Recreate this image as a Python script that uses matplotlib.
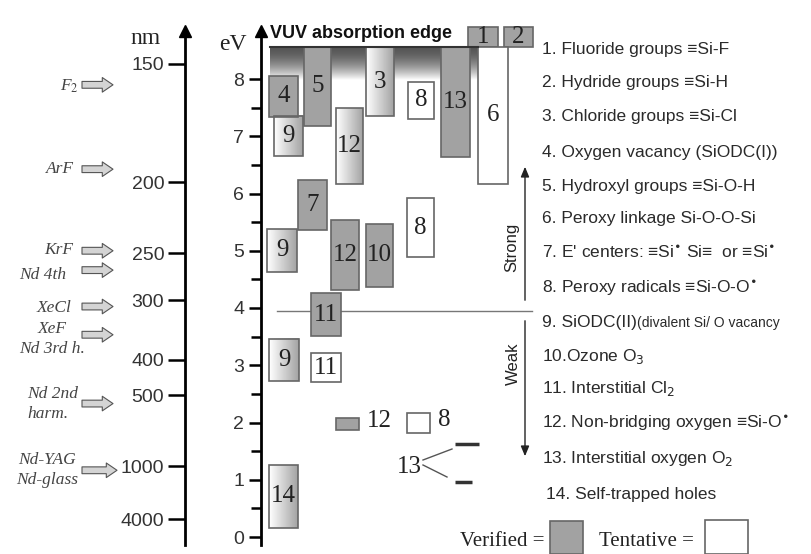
import numpy as np
import matplotlib.pyplot as plt
from matplotlib.patches import Rectangle

plt.rcParams['font.family'] = ['Liberation Sans', 'DejaVu Sans']

# ---- data ----
ev_ticks = [0, 1, 2, 3, 4, 5, 6, 7, 8]
nm_ticks = [150, 200, 250, 300, 400, 500, 1000, 4000]

laser_names = ['F$_2$', 'ArF', 'KrF', 'Nd 4th', 'XeCl', 'XeF\nNd 3rd h.',
               'Nd 2nd\nharm.', 'Nd-YAG\nNd-glass']
laser_nm = [157, 193, 248, 266, 308, 351, 532, 1064]

band_ids = ['1', '2', '4', '5', '9', '12', '3', '8', '13', '6', '7', '9',
            '12', '10', '8', '11', '9', '11', '12', '8', '14']
band_lo = [8.56, 8.56, 7.34, 7.18, 6.65, 6.17, 7.35, 7.30, 6.64, 6.17, 5.36,
           4.63, 4.31, 4.37, 4.89, 3.51, 2.72, 2.71, 1.87, 1.82, 0.16]
band_hi = [8.91, 8.91, 8.05, 8.56, 7.35, 7.49, 8.56, 7.95, 8.56, 8.56, 6.24,
           5.38, 5.54, 5.47, 5.92, 4.26, 3.46, 3.21, 2.08, 2.17, 1.26]
# v = verified, t = tentative, g = tentative shaded
band_kind = ['v', 'v', 'v', 'v', 'g', 'g', 'g', 't', 'v', 't', 'v', 'g',
             'v', 'v', 't', 'v', 'g', 't', 'v', 't', 'g']

o2_ev = [1.62, 0.96]
vuv_edge = (7.98, 8.56)
strong_weak_ev = 3.95

legend_items = [
    '1. Fluoride groups \u2261Si-F',
    '2. Hydride groups \u2261Si-H',
    '3. Chloride groups \u2261Si-Cl',
    '4. Oxygen vacancy (SiODC(I))',
    '5. Hydroxyl groups \u2261Si-O-H',
    '6. Peroxy linkage Si-O-O-Si',
    "7. E' centers: \u2261Si$^{\\bullet}$ Si\u2261  or \u2261Si$^{\\bullet}$",
    '8. Peroxy radicals \u2261Si-O-O$^{\\bullet}$',
    '9. SiODC(II)',
    '10.Ozone O$_3$',
    '11. Interstitial Cl$_2$',
    '12. Non-bridging oxygen \u2261Si-O$^{\\bullet}$',
    '13. Interstitial oxygen O$_2$',
    '14. Self-trapped holes',
]

# ---- layout (pixel positions) ----
box_x0 = [468, 504, 269, 304, 274, 336, 366, 408, 441, 478, 298, 267,
          331, 366, 407, 311, 269, 311, 336, 407, 269]
box_x1 = [498, 533, 298, 331, 303, 363, 394, 434, 470, 508, 327, 297,
          359, 393, 434, 341, 299, 341, 359, 430, 298]
legend_y = [50, 83, 117, 152, 186, 219, 253, 288, 322, 357, 389, 423, 458, 494]


def ev_at(py):
    return (537 - py) / 57.25


fig = plt.figure(figsize=(8.11, 5.54), dpi=100)
ax = fig.add_axes([0, 0, 1, 1])
ax.set_facecolor('white')

GRAY = '#a2a2a2'
EDGE = '#666666'
serif = 'Liberation Serif'

# VUV absorption edge band
grad = np.linspace(0, 1, 100) ** 1.8
band_img = np.tile(grad[:, None], (1, 2))
ax.imshow(band_img, extent=[270, 478, vuv_edge[0], vuv_edge[1]],
          cmap='gray', vmin=-0.5, vmax=1.0, aspect='auto', origin='upper',
          zorder=1, interpolation='bilinear')
ax.plot([270, 478], [vuv_edge[1], vuv_edge[1]], color='#333', lw=1.5, zorder=3)
ax.text(270, ev_at(33), 'VUV absorption edge', fontsize=13, fontweight='bold',
        va='center', ha='left', color='#111')

# bands
hgrad = np.tile(np.linspace(1.0, 0.64, 50)[None, :], (2, 1))
for lab, lo, hi, kind, x0, x1 in zip(band_ids, band_lo, band_hi, band_kind,
                                     box_x0, box_x1):
    if kind == 'g':
        ax.imshow(hgrad, extent=[x0, x1, lo, hi], cmap='gray', vmin=0, vmax=1,
                  aspect='auto', zorder=2, interpolation='bilinear')
        fc = 'none'
    elif kind == 'v':
        fc = GRAY
    else:
        fc = 'white'
    ax.add_patch(Rectangle((x0, lo), x1 - x0, hi - lo, fc=fc, ec=EDGE,
                           lw=1.2, zorder=2.5))
    if hi - lo < 0.5 and lo < 3:
        ax.text(x1 + 8, (lo + hi) / 2 + 0.05, lab, family=serif,
                fontsize=18, va='center', ha='left', color='#222')
        continue
    ax.text((x0 + x1) / 2, (lo + hi) / 2, lab, family=serif, fontsize=18,
            va='center', ha='center', color='#222', zorder=4)

# interstitial O2 lines
for e, x1 in zip(o2_ev, [479, 472]):
    ax.plot([455, x1], [e, e], color='#333', lw=2.5, solid_capstyle='butt')
ax.text(409, ev_at(467), '13', family=serif, fontsize=18, va='center',
        ha='center', color='#222')
ax.plot([423, 452], [ev_at(460), ev_at(449)], color='#555', lw=1)
ax.plot([423, 447], [ev_at(465), ev_at(477)], color='#555', lw=1)

# strong / weak
ax.plot([277, 532], [strong_weak_ev, strong_weak_ev], color='#777', lw=1)
ax.annotate('', xy=(525, ev_at(164)), xytext=(525, ev_at(303)),
            arrowprops=dict(arrowstyle='-|>,head_length=0.6,head_width=0.25',
                            color='#222', lw=1))
ax.annotate('', xy=(525, ev_at(459)), xytext=(525, ev_at(318)),
            arrowprops=dict(arrowstyle='-|>,head_length=0.6,head_width=0.25',
                            color='#222', lw=1))
ax.text(512, ev_at(247), 'Strong', rotation=90, fontsize=12, va='center',
        ha='center', color='#222')
ax.text(513, ev_at(364), 'Weak', rotation=90, fontsize=12, va='center',
        ha='center', color='#222')

# legend list
for i, (txt, y) in enumerate(zip(legend_items, legend_y)):
    x = 546 if i == 13 else 542
    t = ax.text(x, ev_at(y), txt, fontsize=12.5, va='center', ha='left',
                color='#2a2a2a', math_fontfamily='dejavusans')
    if i == 8:
        ax.annotate('(divalent Si/ O vacancy', xy=(1, 0), xycoords=t,
                    fontsize=10, va='bottom', ha='left', color='#2a2a2a')

# verified / tentative key
ax.text(545, ev_at(541), 'Verified =', family=serif, fontsize=15,
        va='center', ha='right', color='#222')
ax.add_patch(Rectangle((550, ev_at(554)), 33, ev_at(521) - ev_at(554),
                       fc=GRAY, ec=EDGE, lw=1.2))
ax.text(694, ev_at(541), 'Tentative =', family=serif, fontsize=15,
        va='center', ha='right', color='#222')
ax.add_patch(Rectangle((705, ev_at(554)), 43, ev_at(520) - ev_at(554),
                       fc='white', ec=EDGE, lw=1.2))

# lasers
laser_lab = [(79, 86, 'right'), (74, 169, 'right'), (73, 250, 'right'),
             (66, 275, 'right'), (71, 308, 'right'), (52, 339, 'center'),
             (27, 404, 'left'), (47, 470, 'center')]
for name, nm, (lx, ly, ha) in zip(laser_names, laser_nm, laser_lab):
    e = 1240.0 / nm
    x_end = 117 if nm > 1000 else 113
    ax.annotate('', xy=(x_end, e), xytext=(82, e),
                arrowprops=dict(arrowstyle='simple,head_length=0.55,head_width=0.75,tail_width=0.35',
                                mutation_scale=14, fc='#d4d4d4', ec='#555',
                                lw=0.8, shrinkA=0, shrinkB=0))
    ax.text(lx, ev_at(ly), name, family=serif, style='italic', fontsize=12.5,
            ha=ha, va='center', color='#444', linespacing=1.3,
            math_fontfamily='stix')

# eV axis
ax.set_xlim(0, 811)
ax.set_ylim(ev_at(554), ev_at(0))
for s in ['top', 'right', 'bottom']:
    ax.spines[s].set_visible(False)
ax.spines['left'].set_position(('data', 261))
ax.spines['left'].set_bounds(ev_at(545), ev_at(34))
ax.spines['left'].set_linewidth(2)
ax.set_xticks([])
ax.set_yticks(ev_ticks)
ax.set_yticks(np.arange(0.5, 8.5, 1.0), minor=True)
ax.tick_params(axis='y', which='major', length=9, width=1.8, labelsize=14,
               labelcolor='#333', pad=3)
ax.tick_params(axis='y', which='minor', length=7, width=1.8)
ax.plot([261], [ev_at(31)], marker='^', color='black', ms=9, clip_on=False)
ax.text(233, ev_at(45), 'eV', family=serif, fontsize=17, ha='center',
        va='center', color='#222')

# nm axis
ax2 = ax.twinx()
ax2.set_ylim(ax.get_ylim())
for s in ['top', 'right', 'bottom']:
    ax2.spines[s].set_visible(False)
ax2.spines['left'].set_visible(True)
ax2.yaxis.tick_left()
ax2.spines['left'].set_position(('data', 185))
ax2.spines['left'].set_bounds(ev_at(545), ev_at(34))
ax2.spines['left'].set_linewidth(2)
ax2.set_yticks([1240.0 / n for n in nm_ticks])
ax2.set_yticklabels([str(n) for n in nm_ticks])
ax2.tick_params(axis='y', which='major', length=12, width=1.8, labelsize=14,
                labelcolor='#333', pad=3)
ax2.plot([185], [ev_at(31)], marker='^', color='black', ms=9, clip_on=False)
ax2.text(145, ev_at(39), 'nm', family=serif, fontsize=17, ha='center',
         va='center', color='#222')

fig.savefig('out.png', dpi=100)
